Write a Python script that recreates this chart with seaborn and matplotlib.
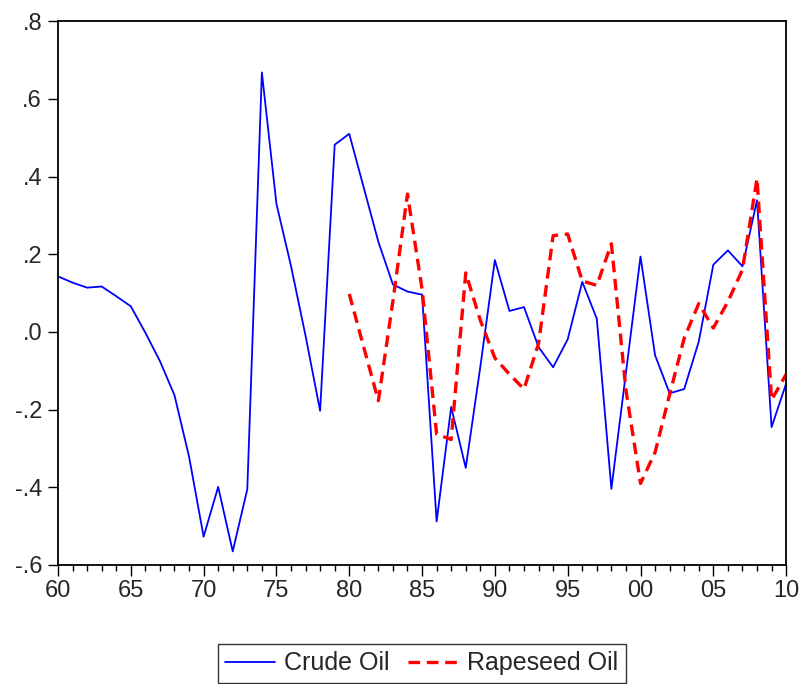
import numpy as np
import pandas as pd
import matplotlib
matplotlib.use("Agg")
import matplotlib.pyplot as plt
import seaborn as sns
from matplotlib.ticker import FuncFormatter, MultipleLocator

# annual series
years = list(range(1960, 2011))
crude_oil = [0.143, 0.127, 0.114, 0.117, 0.092, 0.066, -0.002, -0.075, -0.163, -0.321,
             -0.527, -0.399, -0.565, -0.405, 0.668, 0.330, 0.170, -0.010, -0.203, 0.482,
             0.510, 0.371, 0.232, 0.122, 0.104, 0.096, -0.488, -0.193, -0.350, -0.090,
             0.185, 0.054, 0.064, -0.039, -0.091, -0.019, 0.129, 0.034, -0.404, -0.105,
             0.194, -0.060, -0.158, -0.147, -0.025, 0.173, 0.210, 0.169, 0.339, -0.245,
             -0.133]

rape_years = list(range(1980, 2011))
rapeseed_oil = [0.098, -0.040, -0.177, 0.080, 0.355, 0.110, -0.263, -0.277, 0.152, 0.030,
                -0.067, -0.109, -0.147, -0.030, 0.248, 0.252, 0.131, 0.120, 0.227, -0.150,
                -0.390, -0.310, -0.161, -0.016, 0.073, 0.010, 0.078, 0.160, 0.395, -0.175,
                -0.109]

crude_df = pd.DataFrame({"year": years, "value": crude_oil})
rape_df = pd.DataFrame({"year": rape_years, "value": rapeseed_oil})

sns.set_style("ticks")
plt.rcParams["font.family"] = ["Liberation Sans", "DejaVu Sans"]

fig, ax = plt.subplots(figsize=(8.03, 6.84), dpi=100)
fig.subplots_adjust(left=0.0722, right=0.979, top=0.969, bottom=0.174)

sns.lineplot(data=crude_df, x="year", y="value", color="#0000ff", linewidth=1.3,
             ax=ax, label="Crude Oil")
sns.lineplot(data=rape_df, x="year", y="value", color="#ff0000", linewidth=2.4,
             dashes=False, ax=ax, label="Rapeseed Oil")
ax.lines[1].set_dashes((3.5, 2.0))

ax.set_xlim(1960, 2010)
ax.set_ylim(-0.6, 0.8)
ax.set_xlabel("")
ax.set_ylabel("")

ax.xaxis.set_major_locator(MultipleLocator(5))
ax.xaxis.set_minor_locator(MultipleLocator(1))
ax.yaxis.set_major_locator(MultipleLocator(0.2))
ax.xaxis.set_major_formatter(FuncFormatter(lambda v, p: "%02d" % (int(round(v)) % 100)))
ax.yaxis.set_major_formatter(FuncFormatter(lambda v, p: ("%.1f" % v).replace("0.", ".")))

ax.tick_params(axis="y", which="major", direction="out", length=7.5, width=1.0,
               labelsize=17, color="black", pad=4)
ax.tick_params(axis="x", which="major", direction="out", length=8, width=1.0,
               labelsize=17, color="black", pad=3)
ax.tick_params(axis="x", which="minor", direction="out", length=4.5, width=1.0, color="black")
ax.tick_params(top=False, right=False)
for s in ax.spines.values():
    s.set_visible(True)
    s.set_color("black")
    s.set_linewidth(1.3)

ax.get_legend().remove()
handles, labels = ax.get_legend_handles_labels()
leg = fig.legend(handles, labels, loc="upper center", bbox_to_anchor=(0.525, 0.0585),
                 ncol=2, fontsize=18, frameon=True, fancybox=False, shadow=False,
                 handlelength=2.0, handletextpad=0.35, columnspacing=0.75,
                 borderpad=0.3, borderaxespad=0.0)
leg.get_frame().set_edgecolor("black")
leg.get_frame().set_linewidth(1.0)

fig.savefig("out.png", dpi=100)
